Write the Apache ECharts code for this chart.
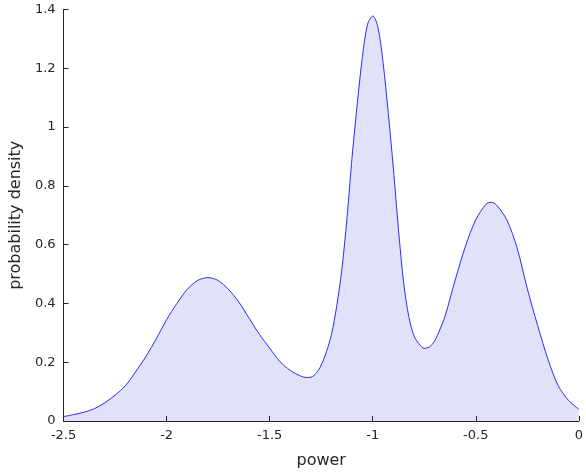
<!DOCTYPE html>
<html>
<head>
<meta charset="utf-8">
<script src="https://cdn.jsdelivr.net/npm/echarts@6/dist/echarts.min.js"></script>
<style>
  html, body { margin: 0; padding: 0; background: #fff; }
  #chart { width: 586px; height: 475px; }
</style>
</head>
<body>
<div id="chart"></div>
<script>
// density curve
const xs = [-2.5, -2.45, -2.4, -2.35, -2.3, -2.25, -2.2, -2.15, -2.1, -2.05,
  -2.0, -1.95, -1.9, -1.85, -1.8, -1.75, -1.7, -1.65, -1.6, -1.55,
  -1.5, -1.45, -1.4, -1.35, -1.325, -1.3, -1.275, -1.25, -1.225, -1.2,
  -1.175, -1.15, -1.125, -1.1, -1.075, -1.05, -1.025, -1.0, -0.975, -0.95,
  -0.925, -0.9, -0.875, -0.85, -0.825, -0.8, -0.775, -0.75, -0.725, -0.7,
  -0.675, -0.65, -0.6, -0.55, -0.5, -0.45, -0.425, -0.4, -0.35, -0.3,
  -0.25, -0.2, -0.15, -0.1, -0.05, 0.0]
const density = [0.015, 0.022, 0.030, 0.042, 0.062, 0.088, 0.12, 0.168, 0.22, 0.28,
  0.345, 0.40, 0.448, 0.478, 0.488, 0.478, 0.448, 0.405, 0.350, 0.295,
  0.248, 0.202, 0.172, 0.153, 0.148, 0.149, 0.162, 0.19, 0.235, 0.295,
  0.39, 0.515, 0.69, 0.90, 1.08, 1.24, 1.35, 1.378, 1.34, 1.22,
  1.05, 0.86, 0.65, 0.47, 0.355, 0.29, 0.262, 0.247, 0.252, 0.272,
  0.31, 0.355, 0.48, 0.595, 0.685, 0.738, 0.744, 0.735, 0.685, 0.59,
  0.45, 0.325, 0.21, 0.12, 0.07, 0.04]

const axisColor = '#262626'
const font = 'DejaVu Sans'

const chart = echarts.init(document.getElementById('chart'))
chart.setOption({
  animation: false,
  grid: { left: 62, right: 0, top: 9.5, bottom: 54 },
  xAxis: {
    type: 'value',
    position: 'bottom',
    min: -2.5,
    max: 0,
    interval: 0.5,
    z: 10,
    name: 'power',
    nameLocation: 'middle',
    nameGap: 32,
    nameTextStyle: { color: axisColor, fontSize: 16, fontFamily: font },
    axisLine: { show: true, onZero: false, lineStyle: { color: axisColor, width: 1 } },
    axisTick: { show: true, inside: true, length: 5, lineStyle: { color: axisColor, width: 1 } },
    axisLabel: { color: axisColor, fontSize: 13, fontFamily: font, margin: 8 },
    splitLine: { show: false }
  },
  yAxis: {
    type: 'value',
    position: 'left',
    min: 0,
    max: 1.4,
    interval: 0.2,
    z: 10,
    name: 'probability density',
    nameLocation: 'middle',
    nameGap: 38,
    nameTextStyle: { color: axisColor, fontSize: 16, fontFamily: font },
    axisLine: { show: true, onZero: false, lineStyle: { color: axisColor, width: 1 } },
    axisTick: { show: true, inside: true, length: 5, lineStyle: { color: axisColor, width: 1 } },
    axisLabel: { color: axisColor, fontSize: 13, fontFamily: font, margin: 8 },
    splitLine: { show: false }
  },
  series: [{
    type: 'line',
    z: 1,
    data: xs.map((x, i) => [x, density[i]]),
    smooth: 0.3,
    showSymbol: false,
    lineStyle: { color: '#2a2aff', width: 1 },
    areaStyle: { color: '#e1e1fa', opacity: 1 }
  }]
})
</script>
</body>
</html>
